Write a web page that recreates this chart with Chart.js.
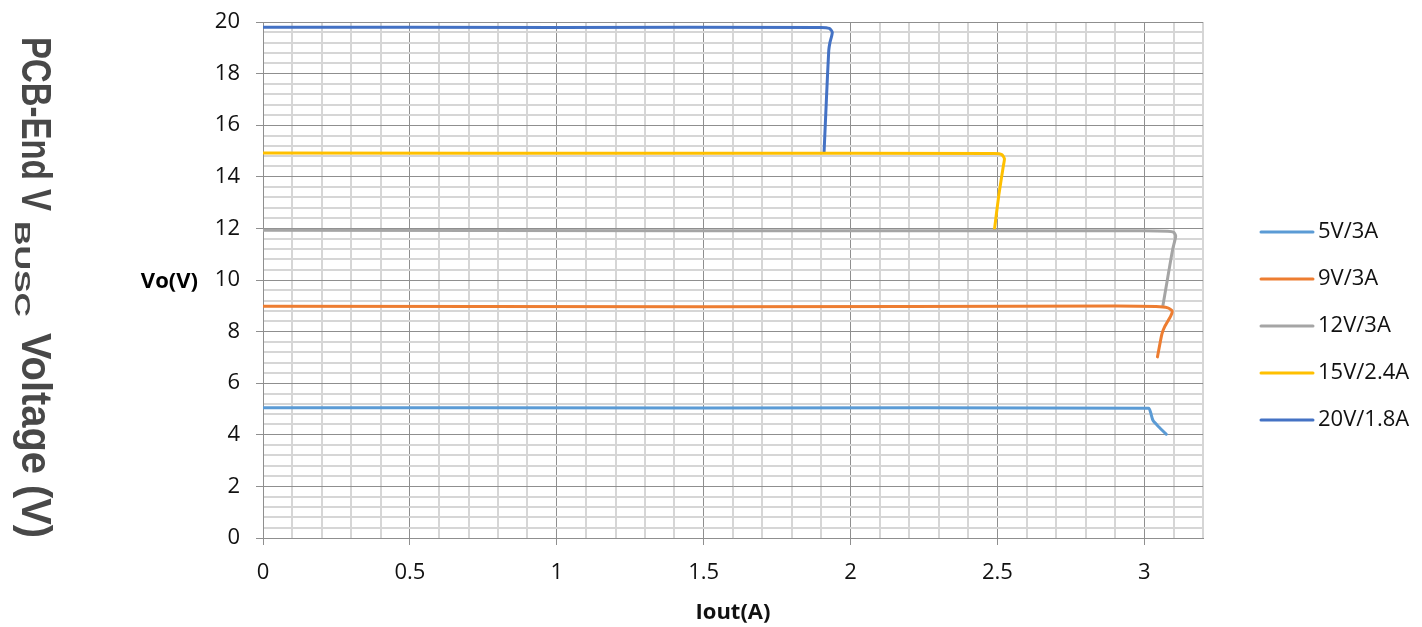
<!DOCTYPE html>
<html>
<head>
<meta charset="utf-8">
<script src="https://cdn.jsdelivr.net/npm/chart.js@4.4.1/dist/chart.umd.min.js"></script>
<style>
  html, body { margin: 0; padding: 0; background: #fff; }
  #wrap { position: relative; width: 1422px; height: 627px; }
</style>
</head>
<body>
<div id="wrap"><canvas id="c"></canvas></div>
<script>
// series labels + colours
const seriesNames = ['5V/3A', '9V/3A', '12V/3A', '15V/2.4A', '20V/1.8A'];
const seriesColors = ['#5B9BD5', '#ED7D31', '#A5A5A5', '#FFC000', '#4472C4'];

// Iout (A) / Vo (V)
const iout5 = [0, 1.5, 3.015, 3.022, 3.03, 3.05, 3.075];
const vo5   = [5.05, 5.04, 5.03, 4.85, 4.55, 4.3, 4.02];

const iout9 = [0, 1.5, 2.9, 3.04, 3.08, 3.095, 3.09, 3.07, 3.06, 3.045];
const vo9   = [8.98, 8.96, 8.99, 8.97, 8.92, 8.8, 8.6, 8.2, 7.9, 7.02];

const iout12 = [0, 1.5, 3.0, 3.08, 3.1, 3.107, 3.097, 3.08, 3.063];
const vo12   = [11.93, 11.91, 11.91, 11.89, 11.85, 11.7, 11.2, 10.1, 8.97];

const iout15 = [0, 1.5, 2.49, 2.515, 2.524, 2.52, 2.505, 2.49];
const vo15   = [14.92, 14.91, 14.9, 14.86, 14.7, 14.4, 13.3, 11.95];

const iout20 = [0, 1.0, 1.9, 1.928, 1.938, 1.93, 1.926, 1.918, 1.91];
const vo20   = [19.8, 19.79, 19.79, 19.75, 19.6, 19.2, 18.9, 17.0, 14.95];

const xsAll = [iout5, iout9, iout12, iout15, iout20];
const ysAll = [vo5, vo9, vo12, vo15, vo20];

// axis ticks
const xMin = 0, xMax = 3.2, xStep = 0.1, xLabelEvery = 0.5;
const yMin = 0, yMax = 20, yStep = 0.4, yLabelEvery = 2;

const yTitleBig = ['PCB-End V', 'BUSC', 'Voltage (V)'];
const yTitleSmall = 'Vo(V)';
const xTitle = 'Iout(A)';

const MAJOR = '#8f8f8f', MINOR = '#d6d6d6';
const FONT = 'Open Sans';
const isMult = (v, m) => Math.abs(v / m - Math.round(v / m)) < 1e-6;

const datasets = seriesNames.map((name, i) => ({
  label: name,
  data: xsAll[i].map((x, j) => ({ x, y: ysAll[i][j] })),
  borderColor: seriesColors[i],
  backgroundColor: seriesColors[i],
  borderWidth: 3,
  pointRadius: 0,
  showLine: true,
  tension: 0.2,
  borderCapStyle: 'round',
  borderJoinStyle: 'round'
}));

// draw a rotated (clockwise) text piece stretched to a given length
function vertText(ctx, txt, font, baseX, y0, y1) {
  ctx.save();
  ctx.font = font;
  const w = ctx.measureText(txt).width;
  ctx.translate(baseX, y0);
  ctx.rotate(Math.PI / 2);
  ctx.scale((y1 - y0) / w, 1);
  ctx.textAlign = 'left';
  ctx.textBaseline = 'alphabetic';
  ctx.fillText(txt, 0, 0);
  ctx.restore();
}

const sideText = {
  id: 'sideText',
  afterDraw(chart) {
    const ctx = chart.ctx;
    ctx.save();
    ctx.fillStyle = '#000';
    ctx.font = 'bold 22px "' + FONT + '"';
    ctx.textAlign = 'right';
    ctx.textBaseline = 'middle';
    ctx.fillText(yTitleSmall, 198, 282);

    ctx.fillStyle = '#484848';
    vertText(ctx, yTitleBig[0], 'bold 42px "Liberation Sans"', 22, 37, 211);
    vertText(ctx, yTitleBig[1], 'bold 22px "Liberation Sans"', 15, 221, 317);
    vertText(ctx, yTitleBig[2], 'bold 42px "Liberation Sans"', 22, 333, 538);
    ctx.restore();

    // legend
    ctx.save();
    ctx.font = '22px "' + FONT + '"';
    ctx.textAlign = 'left';
    ctx.textBaseline = 'middle';
    seriesNames.forEach((name, i) => {
      const y = 232 + i * 47;
      ctx.strokeStyle = seriesColors[i];
      ctx.lineWidth = 3;
      ctx.lineCap = 'round';
      ctx.beginPath();
      ctx.moveTo(1261, y);
      ctx.lineTo(1313, y);
      ctx.stroke();
      ctx.fillStyle = '#111';
      ctx.fillText(name, 1318, y);
    });
    ctx.restore();
  }
};

new Chart(document.getElementById('c'), {
  type: 'scatter',
  data: { datasets },
  plugins: [sideText],
  options: {
    responsive: true,
    maintainAspectRatio: false,
    animation: false,
    layout: { padding: { top: 22, right: 219, left: 0, bottom: 0 } },
    plugins: { legend: { display: false }, tooltip: { enabled: false } },
    scales: {
      x: {
        type: 'linear',
        min: xMin, max: xMax,
        afterFit: s => { s.height = 89; },
        ticks: {
          stepSize: xStep,
          autoSkip: false,
          maxRotation: 0,
          padding: 15,
          color: '#111',
          font: { family: FONT, size: 22 },
          callback: v => isMult(v, xLabelEvery) ? String(+v.toFixed(1)) : ''
        },
        grid: {
          color: c => isMult(c.tick.value, xLabelEvery) ? MAJOR : MINOR,
          lineWidth: c => isMult(c.tick.value, xLabelEvery) ? 1 : 2,
          tickColor: c => isMult(c.tick.value, xLabelEvery) ? MAJOR : 'rgba(0,0,0,0)',
          tickLength: 7,
          tickWidth: 1
        },
        border: { color: MAJOR, width: 1 },
        title: {
          display: true,
          text: xTitle,
          color: '#111',
          font: { family: FONT, size: 22, weight: 'bold' },
          padding: { top: 2, bottom: 1 }
        }
      },
      y: {
        type: 'linear',
        min: yMin, max: yMax,
        afterFit: s => { s.width = 263; s.paddingTop = 0; s.paddingBottom = 0; },
        ticks: {
          stepSize: yStep,
          autoSkip: false,
          padding: 16,
          color: '#111',
          font: { family: FONT, size: 22 },
          callback: v => isMult(v, yLabelEvery) ? String(Math.round(v)) : ''
        },
        grid: {
          color: c => isMult(c.tick.value, yLabelEvery) ? MAJOR : MINOR,
          lineWidth: c => isMult(c.tick.value, yLabelEvery) ? 1 : 2,
          tickColor: c => isMult(c.tick.value, yLabelEvery) ? MAJOR : 'rgba(0,0,0,0)',
          tickLength: 7,
          tickWidth: 1
        },
        border: { color: MAJOR, width: 1 }
      }
    }
  }
});
</script>
</body>
</html>
